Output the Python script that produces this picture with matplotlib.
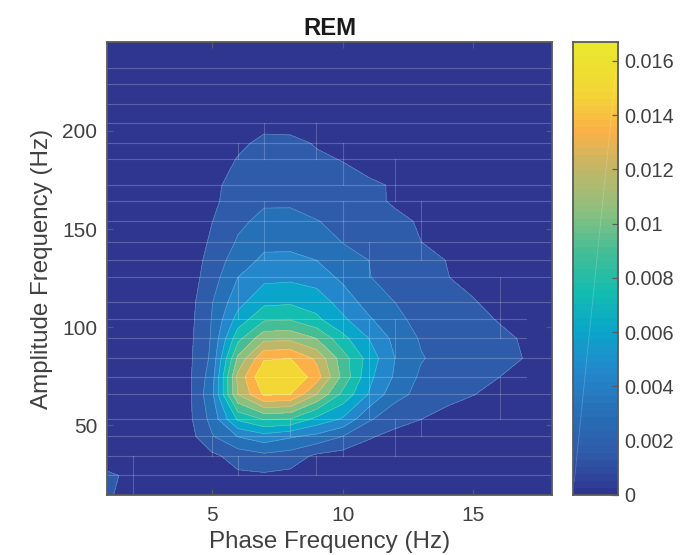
import matplotlib

matplotlib.use("Agg")
import matplotlib.pyplot as plt
import numpy as np
from matplotlib.colors import LinearSegmentedColormap

plt.rcParams["font.family"] = ["Liberation Sans", "DejaVu Sans"]

# comodulogram grid, values are in units of 1e-3
PHASE_HZ = [1, 2, 3, 4, 5, 6, 7, 8, 9, 10, 11, 12, 13, 14, 15, 16, 17, 18]
AMP_HZ = [14.3, 24.3, 34.2, 44.2, 52.9, 65.6, 74.5, 84, 94.2, 103.9, 112.6, 125.3,
          134, 143.5, 153.9, 164.3, 172.3, 185.6, 193.7, 203.9, 213.7, 224, 232, 245.4]
POWER = [
    [1.7, .9, .5, .3, .3, .8, .9, .8, .5, .3, .2, .2, .1, .1, .1, .1, .1, .1],
    [1.75, 1.2, .6, .4, .6, 1.25, 1.3, 1.1, .7, .5, .35, .3, .2, .2, .1, .1, .1, .1],
    [.6, .5, .4, .4, 1.15, 2.1, 2.6, 2.3, 1.2, .85, .75, .5, .4, .3, .2, .2, .1, .1],
    [.2, .2, .3, .6, 2.85, 4.55, 5.4, 4.7, 4.1, 3.0, 1.65, 1.1, .8, .6, .4, .3, .2, .1],
    [.2, .2, .3, .82, 3.45, 7.7, 9.1, 8.9, 7.0, 5.8, 3.2, 2.0, 1.5, 1.05, .75, .5, .3, .2],
    [.2, .2, .3, .78, 4.04, 12.0, 15.2, 15.0, 12.0, 8.6, 5.9, 3.5, 2.55, 1.9, 1.53, 1.1, .6, .3],
    [.2, .2, .3, .86, 3.7, 12.4, 16.4, 16.5, 14.2, 10.1, 6.4, 4.3, 2.73, 2.1, 1.8, 1.5, 1.0, .5],
    [.2, .2, .3, .85, 3.3, 10.8, 14.8, 15.0, 13.2, 9.7, 6.9, 4.5, 3.1, 2.5, 2.05, 1.7, 1.47, .8],
    [.2, .2, .3, .81, 3.14, 8.5, 11.55, 11.6, 10.5, 7.95, 6.0, 4.08, 2.84, 2.3, 1.95, 1.65, 1.42, .8],
    [.1, .2, .3, .69, 3.05, 6.6, 8.76, 8.9, 7.8, 6.3, 4.7, 3.4, 2.5, 2.0, 1.7, 1.45, 1.1, .6],
    [.1, .2, .3, .64, 2.9, 5.5, 7.15, 7.3, 6.9, 5.35, 3.9, 3.0, 2.3, 1.85, 1.55, 1.25, .9, .5],
    [.1, .1, .2, .52, 2.3, 4.5, 5.6, 5.7, 5.3, 4.2, 3.05, 2.5, 2.0, 1.52, 1.28, 1.0, .7, .4],
    [.1, .1, .2, .25, 2.15, 3.7, 4.82, 4.85, 4.5, 3.6, 3.0, 2.45, 1.75, 1.48, 1.15, .85, .6, .3],
    [.1, .1, .1, .2, 1.75, 3.15, 4.09, 4.1, 3.8, 2.95, 2.7, 2.2, 1.5, 1.25, .95, .7, .5, .3],
    [.1, .1, .1, .1, 1.45, 2.7, 3.37, 3.4, 3.05, 2.7, 2.3, 1.85, 1.35, 1.05, .8, .6, .4, .2],
    [.1, .1, .1, .1, 1.15, 2.3, 2.8, 2.8, 2.5, 2.3, 1.9, 1.3, 1.0, .8, .6, .5, .3, .2],
    [.1, .1, .1, .1, 1.15, 2.05, 2.4, 2.5, 2.2, 1.95, 1.65, 1.42, .9, .7, .5, .4, .3, .2],
    [.1, .1, .1, .1, .5, 1.6, 2.0, 2.1, 1.7, 1.45, 1.15, .85, .65, .5, .4, .3, .2, .1],
    [.1, .1, .1, .1, .3, 1.1, 1.94, 1.86, 1.4, 1.1, .8, .55, .4, .3, .2, .2, .1, .1],
    [.1, .1, .1, .1, .2, .5, 1.0, 1.0, .8, .6, .4, .25, .2, .2, .1, .1, .1, .1],
    [.1, .1, .1, .1, .1, .3, .6, .6, .5, .4, .3, .2, .1, .1, .1, .1, .1, .1],
    [.1, .1, .1, .1, .1, .2, .4, .4, .3, .3, .2, .1, .1, .1, .1, .1, .1, .1],
    [.1, .1, .1, .1, .1, .1, .3, .3, .2, .2, .1, .1, .1, .1, .1, .1, .1, .1],
    [.1, .1, .1, .1, .1, .1, .1, .1, .1, .1, .1, .1, .1, .1, .1, .1, .1, .1],
]

LEVELS = [0, 1.5, 3, 4.5, 6, 7.5, 9, 10.5, 12, 13.5, 15, 16.7]
BAND_COLORS = ["#2e3690", "#2f5caa", "#2670b8", "#2587cb", "#0aa5ca", "#14bdb0",
               "#45bd95", "#8cc07f", "#bfb768", "#fbb148", "#f2d735"]
TOP_COLOR = "#eae72e"

X_TICKS = [5, 10, 15]
Y_TICKS = [50, 100, 150, 200]
CBAR_TICKS = [0, 2, 4, 6, 8, 10, 12, 14, 16]
CBAR_LABELS = ["0", "0.002", "0.004", "0.006", "0.008", "0.01", "0.012", "0.014", "0.016"]

# rendering seams in the source image: (phase, amp from, amp to)
V_SEAMS = [
    (2, 14.3, 34.2), (5, 34.2, 44.2), (6, 34.2, 24.3), (6, 103.9, 125.3), (6, 185.6, 193.7),
    (7, 134, 164.3), (7, 185.6, 203.9), (8, 44.2, 52.9), (9, 185.6, 203.9), (9, 24.3, 34.2),
    (10, 172.3, 193.7), (10, 143.5, 164.3), (10, 112.6, 134), (10, 94.2, 112.6), (10, 34.2, 44.2),
    (11, 125.3, 143.5), (11, 52.9, 103.9), (12, 164.3, 185.6), (12, 84, 103.9), (12, 34.2, 52.9),
    (13, 134, 164.3), (13, 44.2, 52.9), (16, 94.2, 125.3), (16, 52.9, 74.5),
]
H_SEAMS_SHORT = [74.5, 94.2, 103.9]

TEXT = "#404040"
FRAME = "#5a5a5a"


def style_axes(ax):
    for spine in ax.spines.values():
        spine.set_color(FRAME)
        spine.set_linewidth(1.3)


fig = plt.figure(figsize=(6.99, 5.55), dpi=100)
ax = fig.add_axes([107 / 699, 1 - 495 / 555, 445 / 699, 453 / 555])
cax = fig.add_axes([573 / 699, 1 - 495 / 555, 44.5 / 699, 453 / 555])

z = np.array(POWER)
ax.contourf(PHASE_HZ, AMP_HZ, z, levels=LEVELS, colors=BAND_COLORS)
ax.contour(PHASE_HZ, AMP_HZ, z, levels=LEVELS[1:-1], colors="white", linewidths=0.5, alpha=0.25)

for row in AMP_HZ[1:-1]:
    xmax = 17 if row in H_SEAMS_SHORT else 18
    ax.plot([1, xmax], [row, row], color="white", lw=0.8, alpha=0.22)
for px, y0, y1 in V_SEAMS:
    ax.plot([px, px], [y0, y1], color="white", lw=0.8, alpha=0.2)

ax.set_xlim(PHASE_HZ[0], PHASE_HZ[-1])
ax.set_ylim(AMP_HZ[0], AMP_HZ[-1])
ax.set_xticks(X_TICKS)
ax.set_yticks(Y_TICKS)
ax.tick_params(direction="in", top=True, right=True, length=4.5, width=0.9, color=FRAME,
               labelcolor=TEXT, labelsize=15, pad=7)
ax.tick_params(axis="x", pad=8)
ax.set_xlabel("Phase Frequency (Hz)", fontsize=17.4, color=TEXT, labelpad=4)
ax.set_ylabel("Amplitude Frequency (Hz)", fontsize=17.4, color=TEXT, labelpad=6.5)
ax.set_title("REM", fontsize=17.2, fontweight="bold", color="#1a1a1a", pad=5)
style_axes(ax)

# colorbar is a 64-step ramp through the band colours
anchors = [v / LEVELS[-1] for v in LEVELS]
cmap = LinearSegmentedColormap.from_list("parula_ish", list(zip(anchors, BAND_COLORS + [TOP_COLOR])), N=64)
edges = np.linspace(0, LEVELS[-1], 65)
cax.pcolormesh([0, 1], edges, ((edges[:-1] + edges[1:]) / 2)[:, None], cmap=cmap, vmin=0, vmax=LEVELS[-1])
cax.plot([0.03, 0.97], [0.5, LEVELS[-1] - 1], color="white", lw=0.6, alpha=0.2)
cax.set_xlim(0, 1)
cax.set_ylim(0, LEVELS[-1])
cax.set_xticks([])
cax.yaxis.tick_right()
cax.set_yticks(CBAR_TICKS)
cax.set_yticklabels(CBAR_LABELS)
cax.tick_params(direction="in", length=4.5, width=0.9, color=FRAME, labelcolor=TEXT, labelsize=14.3, pad=5)
style_axes(cax)

fig.savefig("out.png", dpi=100)
